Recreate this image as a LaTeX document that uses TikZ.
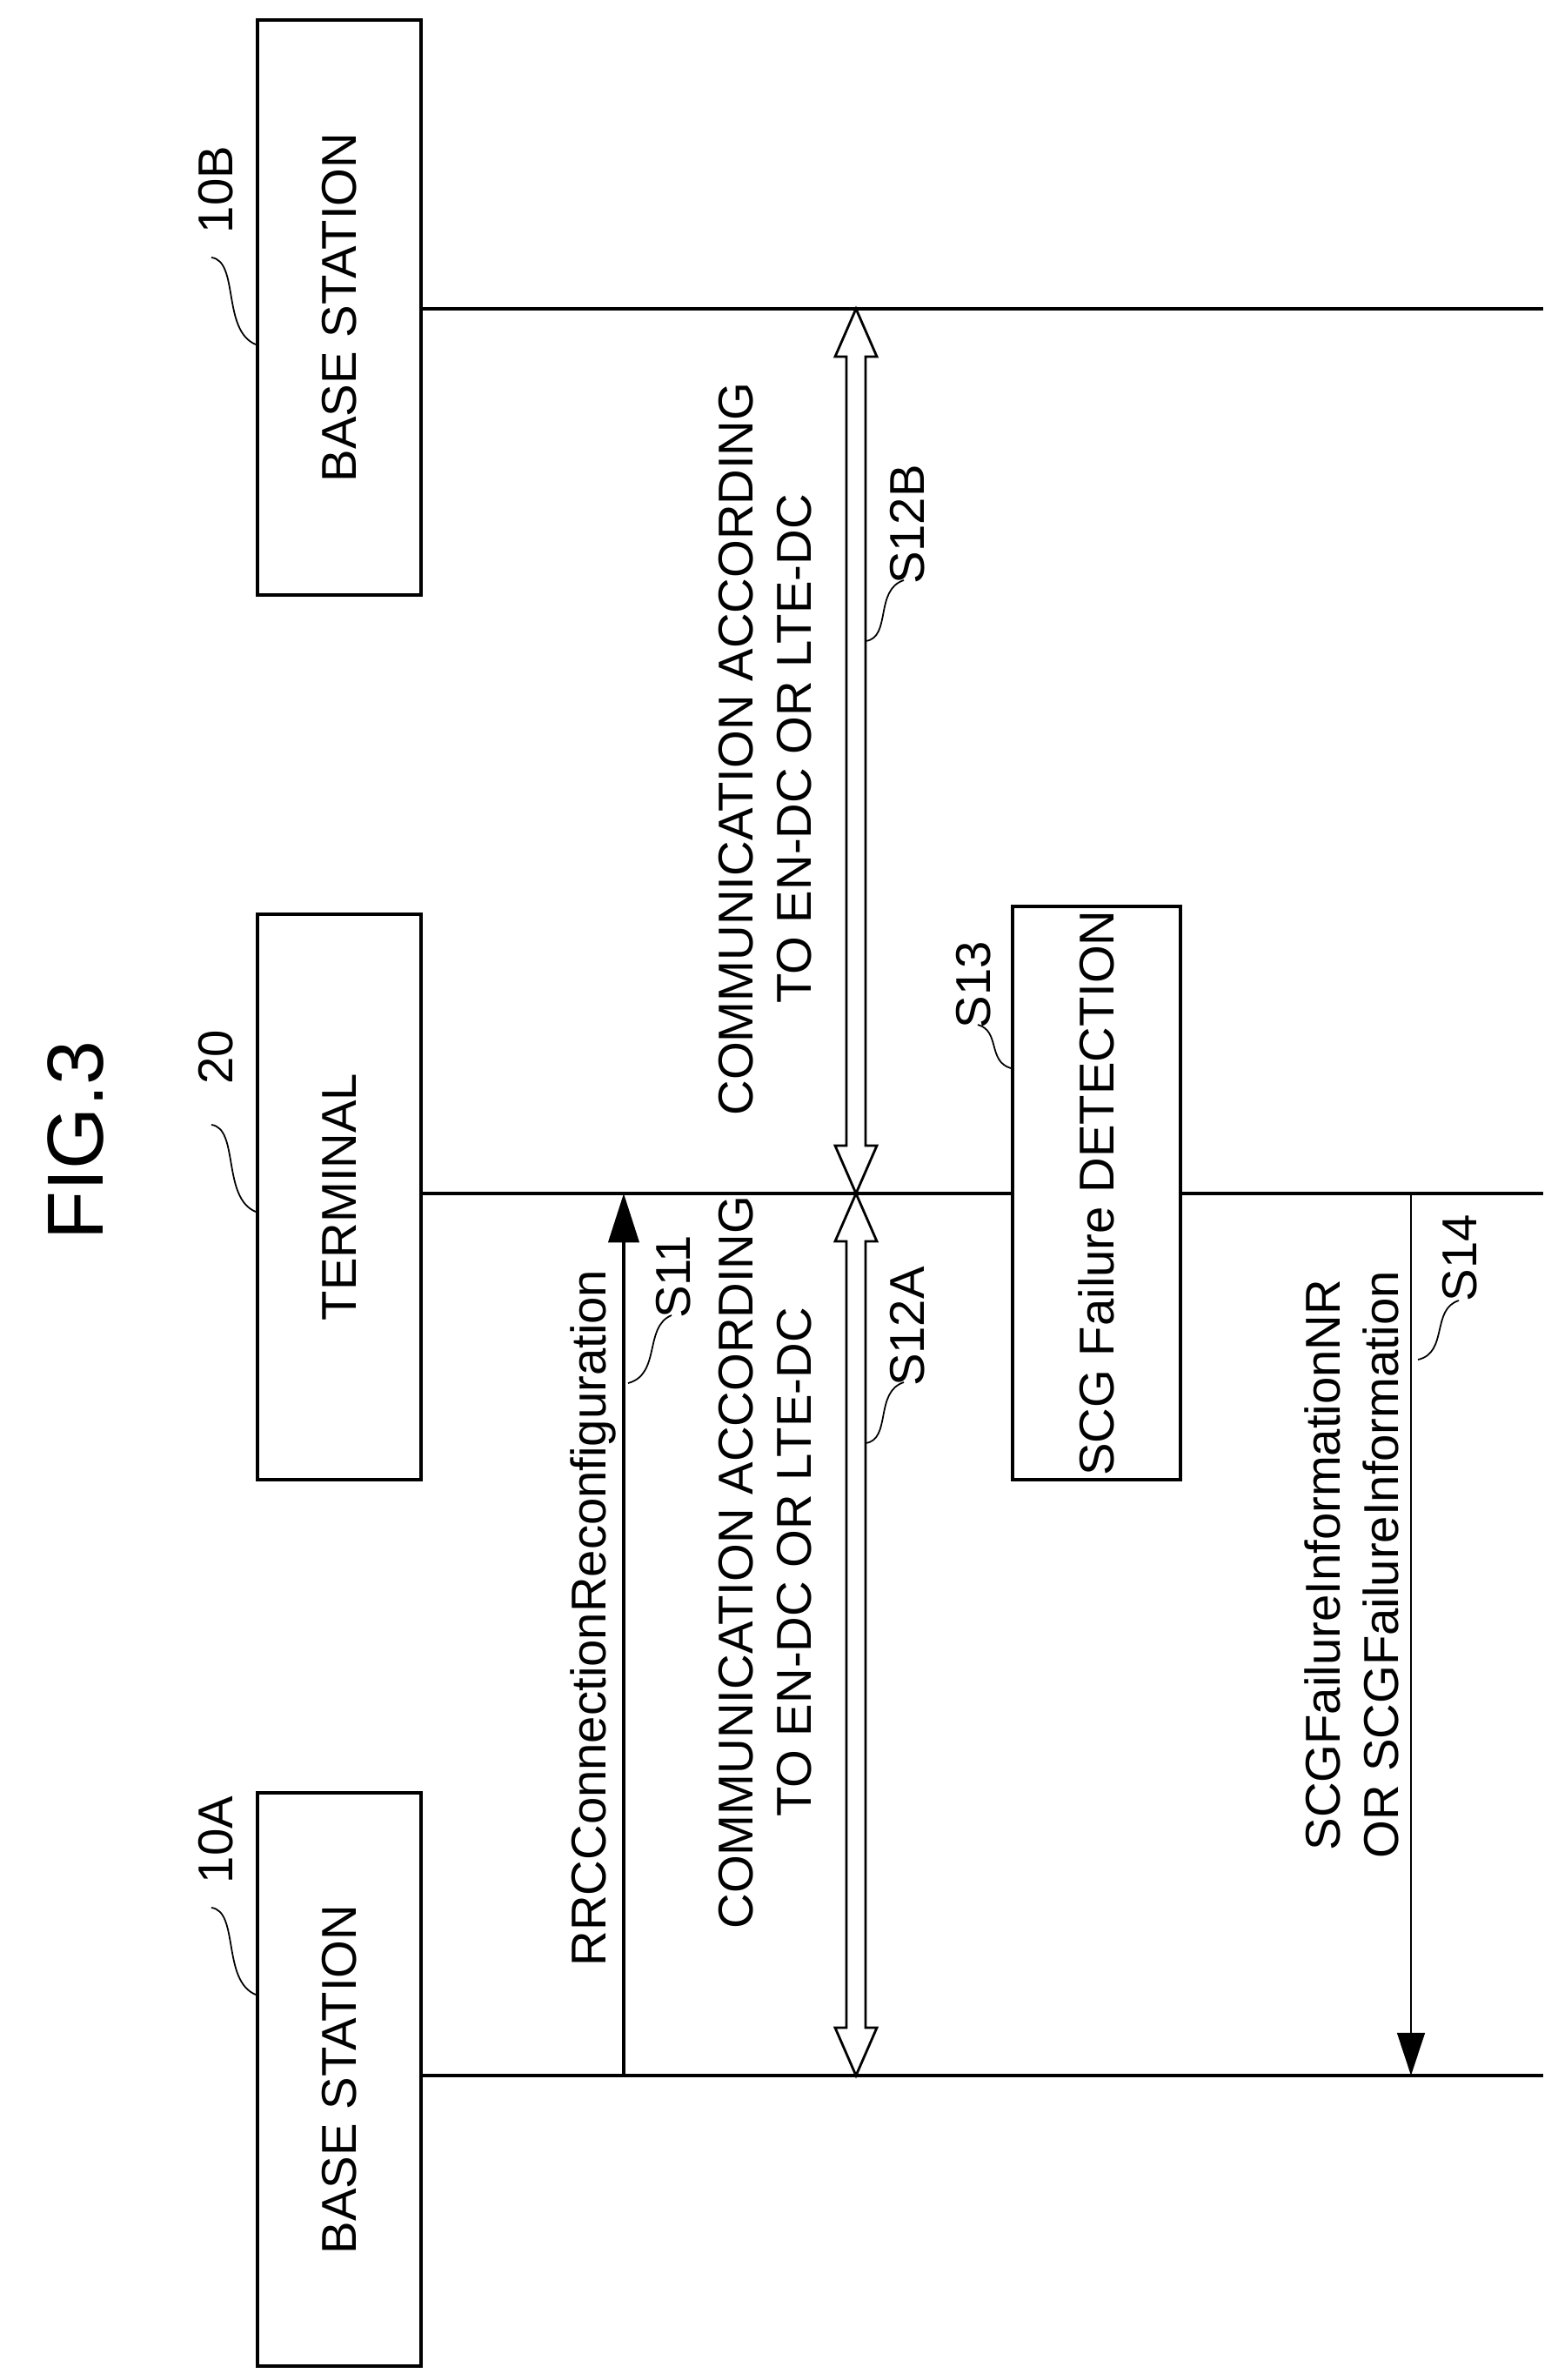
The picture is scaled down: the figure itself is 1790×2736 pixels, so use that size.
\documentclass[tikz,border=0pt]{standalone}
\usepackage{fontspec}
\setmainfont{Liberation Sans}
\usetikzlibrary{arrows.meta}
\tikzset{
  box/.style={draw, line width=1pt, minimum width=1.88cm, inner sep=0pt, anchor=north west},
  txt/.style={rotate=90, font=\fontsize{16}{19}\selectfont, align=center},
  lbl/.style={rotate=90, font=\fontsize{16}{19}\selectfont},
  lead/.style={line width=0.5pt},
  life/.style={line width=1pt},
}
% hollow double-headed arrow along x from y1 (tip) to y2 (tip)
\newcommand{\hollowarrow}[3]{%
  \draw[line width=0.8pt, fill=white]
    (#1,#2) -- ++(24,55) -- ++(-13,0) |- (#1+11,#3-55) -- ++(13,0)
    -- (#1,#3) -- ++(-24,-55) -- ++(13,0) |- (#1-11,#2+55) -- ++(-13,0) -- cycle;}
\begin{document}
\begin{tikzpicture}[x=0.01cm, y=-0.01cm]
\useasboundingbox (0,0) rectangle (1790,2736);

\node[rotate=90, font=\fontsize{26}{30}\selectfont] (fig) at (87,1311) {FIG.3};

% entities
\node[box, minimum height=6.61cm] (bsB) at (294,21) {};
\node[txt] at (bsB.center) {BASE STATION};
\node[box, minimum height=6.50cm] (term) at (294,1049) {};
\node[txt] at (term.center) {TERMINAL};
\node[box, minimum height=6.59cm] (bsA) at (294,2059) {};
\node[txt] at (bsA.center) {BASE STATION};
\node[box, minimum width=1.93cm, minimum height=6.59cm] (det) at (1162,1040) {};
\node[txt] at (det.center) {SCG Failure DETECTION};

% reference signs
\node[lbl] (rB) at (248,218) {10B};
\draw[lead] (243,296) .. controls (275,300) and (255,380) .. (294,396);
\node[lbl] (rT) at (248,1215) {20};
\draw[lead] (243,1293) .. controls (275,1297) and (255,1377) .. (294,1393);
\node[lbl] (rA) at (248,2115) {10A};
\draw[lead] (243,2193) .. controls (275,2197) and (255,2277) .. (294,2293);

% lifelines
\coordinate (eB) at (1774,355);
\coordinate (eT) at (1774,1372);
\coordinate (eA) at (1774,2386);
\draw[life] (bsB.east |- eB) -- (eB);
\draw[life] (term.east |- eT) -- (det.west |- eT);
\draw[life] (det.east |- eT) -- (eT);
\draw[life] (bsA.east |- eA) -- (eA);

% S11
\draw[line width=1pt, -{Triangle[length=16pt,width=10pt]}] (717,2386) -- (717,1372);
\node[lbl] at (682,1860) {RRCConnectionReconfiguration};
\node[lbl] at (774,1468) {S11};
\draw[lead] (772,1512) .. controls (740,1525) and (760,1580) .. (722,1590);

% S12A / S12B
\hollowarrow{984}{1372}{2386}
\hollowarrow{984}{355}{1372}
\node[txt] at (880,1796) {COMMUNICATION ACCORDING\\TO EN-DC OR LTE-DC};
\node[txt] at (880,861) {COMMUNICATION ACCORDING\\TO EN-DC OR LTE-DC};
\node[lbl] at (1043,1525) {S12A};
\draw[lead] (1039,1589) .. controls (1005,1600) and (1025,1655) .. (995,1659);
\node[lbl] at (1043,603) {S12B};
\draw[lead] (1039,667) .. controls (1005,678) and (1025,733) .. (995,737);

% S13
\node[lbl] at (1119,1132) {S13};
\draw[lead] (1124,1178) .. controls (1150,1185) and (1135,1220) .. (1162,1228);

% S14
\draw[line width=0.8pt, -{Triangle[length=14pt,width=9pt]}] (1622,1372) -- (1622,2386);
\node[txt] at (1554,1799) {SCGFailureInformationNR\\OR SCGFailureInformation};
\node[lbl] at (1678,1446) {S14};
\draw[lead] (1677,1495) .. controls (1645,1505) and (1665,1555) .. (1630,1563);
\end{tikzpicture}
\end{document}
